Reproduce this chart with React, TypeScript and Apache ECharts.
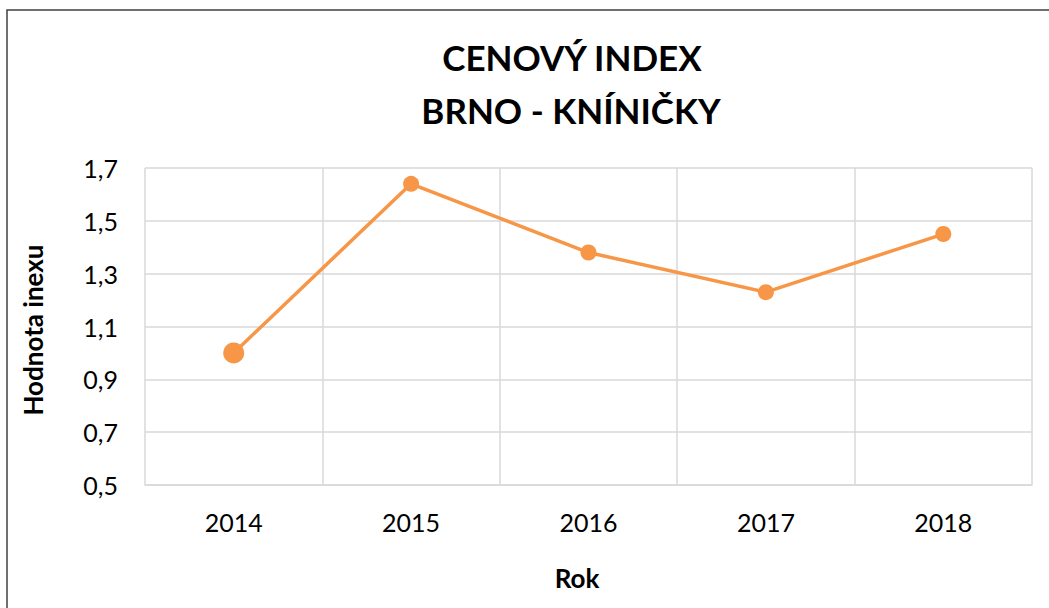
import React, { useEffect, useRef } from "react";
import * as echarts from "echarts";

const categories = ["2014", "2015", "2016", "2017", "2018"];
const values = [1.0, 1.64, 1.38, 1.23, 1.45];
const yTicks = { min: 0.5, max: 1.7, interval: 0.2 };
const titleLines = ["CENOVÝ INDEX", "BRNO - KNÍNIČKY"];
const xName = "Rok";
const yName = "Hodnota inexu";

const FONT = "Lato, 'Open Sans', sans-serif";
const ORANGE = "#F79646";

export default function App() {
  const ref = useRef<HTMLDivElement>(null);
  useEffect(() => {
    if (!ref.current) return;
    const chart = echarts.init(ref.current, null, { renderer: "svg" });
    chart.setOption({
      animation: false,
      backgroundColor: "#fff",
      grid: { left: 145, right: 17, top: 168, bottom: 123, containLabel: false },
      graphic: [
        {
          type: "rect",
          shape: { x: 7, y: 10, width: 1200, height: 800 },
          style: { fill: "none", stroke: "#404040", lineWidth: 1.5 },
          silent: true,
        },
        {
          type: "text",
          x: 572,
          y: 57,
          style: {
            text: titleLines[0],
            font: `bold 35px ${FONT}`,
            fill: "#000",
            align: "center",
            verticalAlign: "middle",
          },
        },
        {
          type: "text",
          x: 571,
          y: 110,
          style: {
            text: titleLines[1],
            font: `bold 35px ${FONT}`,
            fill: "#000",
            align: "center",
            verticalAlign: "middle",
          },
        },
        {
          type: "text",
          x: 577,
          y: 578,
          style: {
            text: xName,
            font: `bold 26px ${FONT}`,
            fill: "#000",
            align: "center",
            verticalAlign: "middle",
          },
        },
        {
          type: "text",
          x: 33,
          y: 330,
          rotation: Math.PI / 2,
          style: {
            text: yName,
            font: `bold 26px ${FONT}`,
            fill: "#000",
            align: "center",
            verticalAlign: "middle",
          },
        },
      ],
      xAxis: {
        type: "category",
        data: categories,
        boundaryGap: true,
        axisLine: { show: true, lineStyle: { color: "#d9d9d9", width: 1.5 } },
        axisTick: { show: false },
        splitLine: { show: true, lineStyle: { color: "#d9d9d9", width: 1.5 } },
        axisLabel: {
          color: "#000",
          fontFamily: FONT,
          fontSize: 25,
          margin: 24,
        },
      },
      yAxis: {
        type: "value",
        min: yTicks.min,
        max: yTicks.max,
        interval: yTicks.interval,
        axisLine: { show: false },
        axisTick: { show: false },
        splitLine: { show: true, lineStyle: { color: "#d9d9d9", width: 1.5 } },
        axisLabel: {
          color: "#000",
          fontFamily: FONT,
          fontSize: 25,
          margin: 27,
          formatter: (v: number) => v.toFixed(1).replace(".", ","),
        },
      },
      series: [
        {
          type: "line",
          data: values.map((v, i) => ({ value: v, symbolSize: i === 0 ? 21 : 16 })),
          symbol: "circle",
          lineStyle: { color: ORANGE, width: 3.5 },
          itemStyle: { color: ORANGE },
        },
      ],
    });
    return () => chart.dispose();
  }, []);
  return (
    <div
      ref={ref}
      style={{ position: "fixed", left: 0, top: 0, width: 1049, height: 608 }}
    />
  );
}
